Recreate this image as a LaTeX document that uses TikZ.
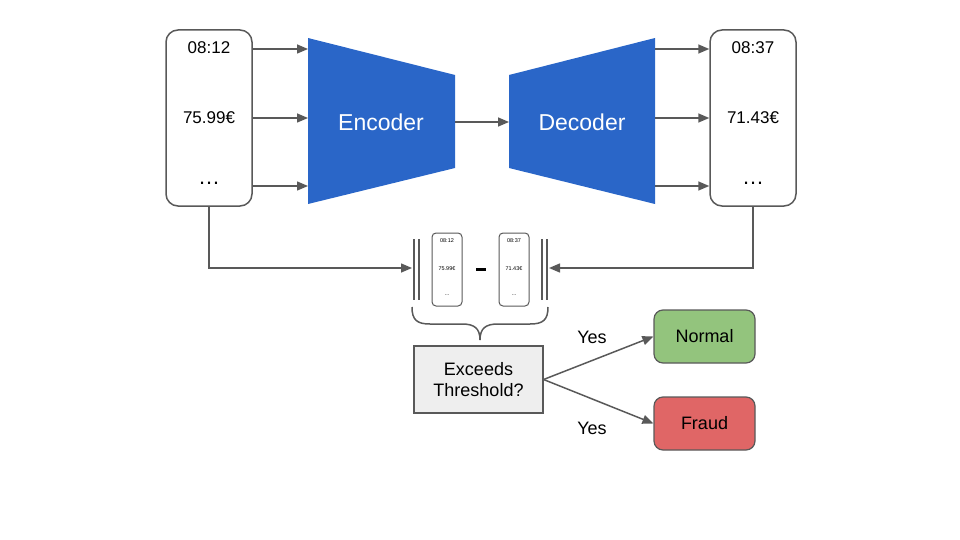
\documentclass[tikz,border=0pt]{standalone}
\usepackage{fontspec}
\setmainfont{Liberation Sans}
\usetikzlibrary{arrows.meta}
\definecolor{ln}{HTML}{595959}
\definecolor{encblue}{HTML}{2A66C8}
\definecolor{okgreen}{HTML}{93C47D}
\definecolor{badred}{HTML}{E06666}
\definecolor{qbg}{HTML}{EEEEEE}
\begin{document}
\begin{tikzpicture}[x=1pt,y=-1pt,
  line/.style={draw=ln,line width=1.5pt},
  arr/.style={line,-{Triangle[length=11pt,width=9pt]}},
  recbox/.style={draw=ln,line width=1.5pt,rounded corners=12pt,fill=white,
    minimum width=86pt,minimum height=176pt,inner sep=0pt},
  smallbox/.style={draw=ln,line width=1pt,rounded corners=4pt,fill=white,
    minimum width=30pt,minimum height=73pt,inner sep=0pt},
  txt/.style={inner sep=0pt,font=\fontsize{17}{20}\selectfont},
  dots/.style={inner sep=0pt,font=\fontsize{22}{26}\selectfont},
  tinytxt/.style={inner sep=0pt,font=\fontsize{5.5}{6.5}\selectfont},
  bigtxt/.style={inner sep=0pt,text=white,font=\fontsize{23}{27}\selectfont},
  labtxt/.style={inner sep=0pt,font=\fontsize{18}{21}\selectfont},
  outbox/.style={draw=ln,line width=1.2pt,rounded corners=9pt,
    minimum width=101pt,minimum height=53pt,inner sep=0pt,font=\fontsize{18}{21}\selectfont},
]
\useasboundingbox (0,0) rectangle (960,540);

% input / output boxes
\node[recbox] (lbox) at (209,118) {};
\node[txt] (l1) at (209,48) {08:12};
\node[txt] (l2) at (209,118) {75.99€};
\node[dots] (l3) at (209,183) {…};

\node[recbox] (rbox) at (753,118) {};
\node[txt] (r1) at (753,48) {08:37};
\node[txt] (r2) at (753,118) {71.43€};
\node[dots] (r3) at (753,183) {…};

% encoder / decoder
\coordinate (ea) at (308,38);
\coordinate (eb) at (455,75);
\coordinate (ec) at (455,168);
\coordinate (ed) at (308,204);
\fill[encblue] (ea) -- (eb) -- (ec) -- (ed) -- cycle;
\node[bigtxt] (enc) at (381,122) {Encoder};

\coordinate (da) at (509,75);
\coordinate (db) at (655,38);
\coordinate (dc) at (655,204);
\coordinate (dd) at (509,168);
\fill[encblue] (da) -- (db) -- (dc) -- (dd) -- cycle;
\node[bigtxt] (dec) at (582,122) {Decoder};

% arrows into encoder
\coordinate (ei1) at (308,49);
\coordinate (ei2) at (308,118);
\coordinate (ei3) at (308,186);
\draw[arr] (lbox.east |- ei1) -- (ei1);
\draw[arr] (lbox.east |- ei2) -- (ei2);
\draw[arr] (lbox.east |- ei3) -- (ei3);

% encoder -> decoder
\coordinate (eo) at (455,122);
\coordinate (di) at (509,122);
\draw[arr] (eo) -- (di);

% decoder -> output
\coordinate (do1) at (655,49);
\coordinate (do2) at (655,118);
\coordinate (do3) at (655,186);
\draw[arr] (do1) -- (rbox.west |- do1);
\draw[arr] (do2) -- (rbox.west |- do2);
\draw[arr] (do3) -- (rbox.west |- do3);

% norm bars
\draw[line] (414,239) -- (414,300);
\draw[line] (419,239) -- (419,300);
\draw[line] (542,239) -- (542,300);
\draw[line] (547,239) -- (547,300);
\coordinate (nl) at (412,268);
\coordinate (nr) at (549,268);

\draw[arr] (lbox.south) |- (nl);
\draw[arr] (rbox.south) |- (nr);

% small boxes
\node[smallbox] (sa) at (447,269.5) {};
\node[tinytxt] at (447,241) {08:12};
\node[tinytxt] at (447,269) {75.99€};
\node[tinytxt] at (447,295) {…};
\node[smallbox] (sb) at (514,269.5) {};
\node[tinytxt] at (514,241) {08:37};
\node[tinytxt] at (514,269) {71.43€};
\node[tinytxt] at (514,295) {…};
\fill[black] (476,268) rectangle (486,271);

% brace
\draw[line] (412,307) .. controls (412,320) and (417,324) .. (430,324) -- (462,324)
  .. controls (474,324) and (480,328) .. (480,340);
\draw[line] (548,307) .. controls (548,320) and (543,324) .. (530,324) -- (498,324)
  .. controls (486,324) and (480,328) .. (480,340);

% decision
\node[draw=ln,line width=1.2pt,fill=qbg,minimum width=129pt,minimum height=67pt,
  inner sep=0pt,align=center,font=\fontsize{18}{21}\selectfont] (q) at (478.5,379.5) {Exceeds\\Threshold?};

\node[outbox,fill=okgreen] (norm) at (704.5,336.5) {Normal};
\node[outbox,fill=badred] (fraud) at (704.5,423.5) {Fraud};

\draw[arr] (q.east) -- (norm.west);
\draw[arr] (q.east) -- (fraud.west);

\node[labtxt] (y1) at (592,337) {Yes};
\node[labtxt] (y2) at (592,428) {Yes};
\end{tikzpicture}
\end{document}
